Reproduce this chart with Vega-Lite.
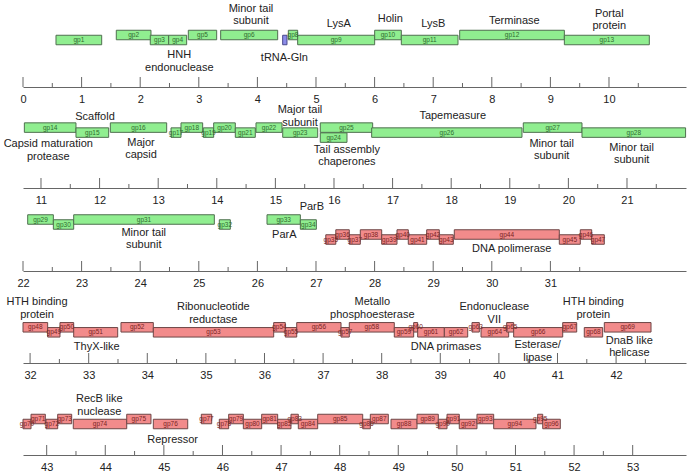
{
  "$schema": "https://vega.github.io/schema/vega-lite/v6.json",
  "padding": {"left": 3, "top": 2, "right": 0, "bottom": 0},
  "bounds": "flush",
  "spacing": 0,
  "config": {
    "view": {"stroke": null},
    "font": "Liberation Sans",
    "axis": {"grid": false, "title": null, "ticks": false, "domainColor": "#666666", "labelColor": "#222222", "labelFontSize": 11, "labelFlush": false, "labelOverlap": false, "labelBound": false, "labelPadding": 6.5, "format": "d"}
  },
  "resolve": {"scale": {"x": "independent", "y": "independent"}, "axis": {"x": "independent", "y": "independent"}},
  "datasets": {
    "genes": [
      {"row":1,"name":"gp1","start":0.563,"end":1.343,"level":3,"strand":"+"},
      {"row":1,"name":"gp2","start":1.592,"end":2.184,"level":4,"strand":"+"},
      {"row":1,"name":"gp3","start":2.172,"end":2.486,"level":3,"strand":"+"},
      {"row":1,"name":"gp4","start":2.486,"end":2.793,"level":3,"strand":"+"},
      {"row":1,"name":"gp5","start":2.821,"end":3.305,"level":4,"strand":"+"},
      {"row":1,"name":"gp6","start":3.373,"end":4.346,"level":4,"strand":"+"},
      {"row":1,"name":"tRNA","start":4.431,"end":4.505,"level":3,"strand":"t"},
      {"row":1,"name":"gp8","start":4.528,"end":4.687,"level":4,"strand":"+"},
      {"row":1,"name":"gp9","start":4.687,"end":6.001,"level":3,"strand":"+"},
      {"row":1,"name":"gp10","start":6.001,"end":6.456,"level":4,"strand":"+"},
      {"row":1,"name":"gp11","start":6.456,"end":7.423,"level":3,"strand":"+"},
      {"row":1,"name":"gp12","start":7.452,"end":9.238,"level":4,"strand":"+"},
      {"row":1,"name":"gp13","start":9.238,"end":10.688,"level":3,"strand":"+"},
      {"row":2,"name":"gp14","start":10.716,"end":11.597,"level":4,"strand":"+"},
      {"row":2,"name":"gp15","start":11.597,"end":12.155,"level":3,"strand":"+"},
      {"row":2,"name":"gp16","start":12.183,"end":13.145,"level":4,"strand":"+"},
      {"row":2,"name":"gp17","start":13.219,"end":13.389,"level":3,"strand":"+"},
      {"row":2,"name":"gp18","start":13.389,"end":13.759,"level":4,"strand":"+"},
      {"row":2,"name":"gp19","start":13.77,"end":13.947,"level":3,"strand":"+"},
      {"row":2,"name":"gp20","start":13.947,"end":14.316,"level":4,"strand":"+"},
      {"row":2,"name":"gp21","start":14.316,"end":14.657,"level":3,"strand":"+"},
      {"row":2,"name":"gp22","start":14.669,"end":15.113,"level":4,"strand":"+"},
      {"row":2,"name":"gp23","start":15.125,"end":15.722,"level":3,"strand":"+"},
      {"row":2,"name":"gp25","start":15.766,"end":16.66,"level":4,"strand":"+"},
      {"row":2,"name":"gp24","start":15.766,"end":16.222,"level":2,"strand":"+"},
      {"row":2,"name":"gp26","start":16.643,"end":19.208,"level":3,"strand":"+"},
      {"row":2,"name":"gp27","start":19.23,"end":20.232,"level":4,"strand":"+"},
      {"row":2,"name":"gp28","start":20.232,"end":22.0,"level":3,"strand":"+"},
      {"row":3,"name":"gp29","start":22.08,"end":22.518,"level":4,"strand":"+"},
      {"row":3,"name":"gp30","start":22.518,"end":22.865,"level":3,"strand":"+"},
      {"row":3,"name":"gp31","start":22.865,"end":25.265,"level":4,"strand":"+"},
      {"row":3,"name":"gp32","start":25.35,"end":25.538,"level":3,"strand":"+"},
      {"row":3,"name":"gp33","start":26.164,"end":26.733,"level":4,"strand":"+"},
      {"row":3,"name":"gp34","start":26.733,"end":27.006,"level":3,"strand":"+"},
      {"row":3,"name":"gp35","start":27.167,"end":27.338,"level":0,"strand":"-"},
      {"row":3,"name":"gp36","start":27.338,"end":27.568,"level":1,"strand":"-"},
      {"row":3,"name":"gp37","start":27.568,"end":27.756,"level":0,"strand":"-"},
      {"row":3,"name":"gp38","start":27.756,"end":28.121,"level":1,"strand":"-"},
      {"row":3,"name":"gp39","start":28.121,"end":28.382,"level":0,"strand":"-"},
      {"row":3,"name":"gp40","start":28.382,"end":28.575,"level":1,"strand":"-"},
      {"row":3,"name":"gp41","start":28.575,"end":28.889,"level":0,"strand":"-"},
      {"row":3,"name":"gp42","start":28.889,"end":29.104,"level":1,"strand":"-"},
      {"row":3,"name":"gp43","start":29.104,"end":29.343,"level":0,"strand":"-"},
      {"row":3,"name":"gp44","start":29.36,"end":31.152,"level":1,"strand":"-"},
      {"row":3,"name":"gp45","start":31.152,"end":31.51,"level":0,"strand":"-"},
      {"row":3,"name":"gp46","start":31.51,"end":31.705,"level":1,"strand":"-"},
      {"row":3,"name":"gp47","start":31.705,"end":31.92,"level":0,"strand":"-"},
      {"row":4,"name":"gp48","start":31.879,"end":32.3,"level":1,"strand":"-"},
      {"row":4,"name":"gp49","start":32.3,"end":32.51,"level":0,"strand":"-"},
      {"row":4,"name":"gp50","start":32.51,"end":32.744,"level":1,"strand":"-"},
      {"row":4,"name":"gp51","start":32.744,"end":33.495,"level":0,"strand":"-"},
      {"row":4,"name":"gp52","start":33.551,"end":34.103,"level":1,"strand":"-"},
      {"row":4,"name":"gp53","start":34.103,"end":36.157,"level":0,"strand":"-"},
      {"row":4,"name":"gp54","start":36.157,"end":36.355,"level":1,"strand":"-"},
      {"row":4,"name":"gp55","start":36.355,"end":36.55,"level":0,"strand":"-"},
      {"row":4,"name":"gp56","start":36.55,"end":37.306,"level":1,"strand":"-"},
      {"row":4,"name":"gp57","start":37.306,"end":37.447,"level":0,"strand":"-"},
      {"row":4,"name":"gp58","start":37.447,"end":38.215,"level":1,"strand":"-"},
      {"row":4,"name":"gp59","start":38.215,"end":38.546,"level":0,"strand":"-"},
      {"row":4,"name":"gp60","start":38.546,"end":38.614,"level":1,"strand":"-"},
      {"row":4,"name":"gp61","start":38.614,"end":39.069,"level":0,"strand":"-"},
      {"row":4,"name":"gp62","start":39.069,"end":39.468,"level":0,"strand":"-"},
      {"row":4,"name":"gp63","start":39.541,"end":39.666,"level":1,"strand":"-"},
      {"row":4,"name":"gp64","start":39.695,"end":40.167,"level":0,"strand":"-"},
      {"row":4,"name":"gp65","start":40.133,"end":40.252,"level":1,"strand":"-"},
      {"row":4,"name":"gp66","start":40.252,"end":41.089,"level":0,"strand":"-"},
      {"row":4,"name":"gp67","start":41.089,"end":41.328,"level":1,"strand":"-"},
      {"row":4,"name":"gp68","start":41.457,"end":41.771,"level":0,"strand":"-"},
      {"row":4,"name":"gp69","start":41.799,"end":42.596,"level":1,"strand":"-"},
      {"row":5,"name":"gp70","start":42.596,"end":42.733,"level":0,"strand":"-"},
      {"row":5,"name":"gp71","start":42.733,"end":42.977,"level":1,"strand":"-"},
      {"row":5,"name":"gp72","start":42.988,"end":43.188,"level":0,"strand":"-"},
      {"row":5,"name":"gp73","start":43.188,"end":43.427,"level":1,"strand":"-"},
      {"row":5,"name":"gp74","start":43.454,"end":44.366,"level":0,"strand":"-"},
      {"row":5,"name":"gp75","start":44.366,"end":44.78,"level":1,"strand":"-"},
      {"row":5,"name":"gp76","start":44.82,"end":45.407,"level":0,"strand":"-"},
      {"row":5,"name":"gp77","start":45.639,"end":45.816,"level":1,"strand":"-"},
      {"row":5,"name":"gp78","start":45.946,"end":46.106,"level":0,"strand":"-"},
      {"row":5,"name":"gp79","start":46.106,"end":46.356,"level":1,"strand":"-"},
      {"row":5,"name":"gp80","start":46.356,"end":46.669,"level":0,"strand":"-"},
      {"row":5,"name":"gp81","start":46.669,"end":46.942,"level":1,"strand":"-"},
      {"row":5,"name":"gp82","start":46.942,"end":47.169,"level":0,"strand":"-"},
      {"row":5,"name":"gp83","start":47.169,"end":47.294,"level":1,"strand":"-"},
      {"row":5,"name":"gp84","start":47.294,"end":47.625,"level":0,"strand":"-"},
      {"row":5,"name":"gp85","start":47.625,"end":48.393,"level":1,"strand":"-"},
      {"row":5,"name":"gp86","start":48.393,"end":48.523,"level":0,"strand":"-"},
      {"row":5,"name":"gp87","start":48.523,"end":48.83,"level":1,"strand":"-"},
      {"row":5,"name":"gp88","start":48.876,"end":49.32,"level":0,"strand":"-"},
      {"row":5,"name":"gp89","start":49.32,"end":49.683,"level":1,"strand":"-"},
      {"row":5,"name":"gp90","start":49.683,"end":49.832,"level":0,"strand":"-"},
      {"row":5,"name":"gp91","start":49.832,"end":50.041,"level":1,"strand":"-"},
      {"row":5,"name":"gp92","start":50.041,"end":50.343,"level":0,"strand":"-"},
      {"row":5,"name":"gp93","start":50.343,"end":50.628,"level":1,"strand":"-"},
      {"row":5,"name":"gp94","start":50.628,"end":51.35,"level":0,"strand":"-"},
      {"row":5,"name":"gp95","start":51.379,"end":51.465,"level":1,"strand":"-"},
      {"row":5,"name":"gp96","start":51.465,"end":51.765,"level":0,"strand":"-"}
    ],
    "labels": [
      {"row":1,"label":"Minor tail\nsubunit","at":3.89,"level":4,"side":"above"},
      {"row":1,"label":"HNH\nendonuclease","at":2.667,"level":3,"side":"below"},
      {"row":1,"label":"tRNA-Gln","at":4.46,"level":2.5,"side":"below"},
      {"row":1,"label":"LysA","at":5.39,"level":3.4,"side":"above"},
      {"row":1,"label":"Holin","at":6.268,"level":4.4,"side":"above"},
      {"row":1,"label":"LysB","at":7.0,"level":3.4,"side":"above"},
      {"row":1,"label":"Terminase","at":8.385,"level":4,"side":"above"},
      {"row":1,"label":"Portal\nprotein","at":10.005,"level":3,"side":"above"},
      {"row":2,"label":"Capsid maturation\nprotease","at":11.125,"level":3.7,"side":"below"},
      {"row":2,"label":"Scaffold","at":11.922,"level":3.3,"side":"above"},
      {"row":2,"label":"Major\ncapsid","at":12.707,"level":4,"side":"below"},
      {"row":2,"label":"Major tail\nsubunit","at":15.42,"level":2.2,"side":"above"},
      {"row":2,"label":"Tail assembly\nchaperones","at":16.22,"level":2.6,"side":"below"},
      {"row":2,"label":"Tapemeasure","at":18.026,"level":3.5,"side":"above"},
      {"row":2,"label":"Minor tail\nsubunit","at":19.715,"level":3.8,"side":"below"},
      {"row":2,"label":"Minor tail\nsubunit","at":21.08,"level":3,"side":"below"},
      {"row":3,"label":"Minor tail\nsubunit","at":24.06,"level":4.4,"side":"below"},
      {"row":3,"label":"ParA","at":26.46,"level":3.9,"side":"below"},
      {"row":3,"label":"ParB","at":26.93,"level":3.8,"side":"above"},
      {"row":3,"label":"DNA polimerase","at":30.34,"level":1.2,"side":"below"},
      {"row":4,"label":"HTH binding\nprotein","at":32.118,"level":0.7,"side":"above"},
      {"row":4,"label":"ThyX-like","at":33.137,"level":0.1,"side":"below"},
      {"row":4,"label":"Ribonucleotide\nreductase","at":35.127,"level":-0.3,"side":"above"},
      {"row":4,"label":"Metallo\nphosphoesterase","at":37.84,"level":0.7,"side":"above"},
      {"row":4,"label":"DNA primases","at":39.097,"level":0,"side":"below"},
      {"row":4,"label":"Endonuclease\nVII","at":39.922,"level":-0.3,"side":"above"},
      {"row":4,"label":"Esterase/\nlipase","at":40.662,"level":0.4,"side":"below"},
      {"row":4,"label":"HTH binding\nprotein","at":41.611,"level":0.7,"side":"above"},
      {"row":4,"label":"DnaB like\nhelicase","at":42.226,"level":1.3,"side":"below"},
      {"row":5,"label":"RecB like\nnuclease","at":43.898,"level":-0.3,"side":"above"},
      {"row":5,"label":"Repressor","at":45.15,"level":-0.1,"side":"below"}
    ],
    "ticks": [
      {"row":1,"pos":0,"major":true},{"row":1,"pos":0.5,"major":false},{"row":1,"pos":1,"major":true},{"row":1,"pos":1.5,"major":false},
      {"row":1,"pos":2,"major":true},{"row":1,"pos":2.5,"major":false},{"row":1,"pos":3,"major":true},{"row":1,"pos":3.5,"major":false},
      {"row":1,"pos":4,"major":true},{"row":1,"pos":4.5,"major":false},{"row":1,"pos":5,"major":true},{"row":1,"pos":5.5,"major":false},
      {"row":1,"pos":6,"major":true},{"row":1,"pos":6.5,"major":false},{"row":1,"pos":7,"major":true},{"row":1,"pos":7.5,"major":false},
      {"row":1,"pos":8,"major":true},{"row":1,"pos":8.5,"major":false},{"row":1,"pos":9,"major":true},{"row":1,"pos":9.5,"major":false},
      {"row":1,"pos":10,"major":true},{"row":1,"pos":10.5,"major":false},
      {"row":2,"pos":11,"major":true},{"row":2,"pos":11.5,"major":false},{"row":2,"pos":12,"major":true},{"row":2,"pos":12.5,"major":false},
      {"row":2,"pos":13,"major":true},{"row":2,"pos":13.5,"major":false},{"row":2,"pos":14,"major":true},{"row":2,"pos":14.5,"major":false},
      {"row":2,"pos":15,"major":true},{"row":2,"pos":15.5,"major":false},{"row":2,"pos":16,"major":true},{"row":2,"pos":16.5,"major":false},
      {"row":2,"pos":17,"major":true},{"row":2,"pos":17.5,"major":false},{"row":2,"pos":18,"major":true},{"row":2,"pos":18.5,"major":false},
      {"row":2,"pos":19,"major":true},{"row":2,"pos":19.5,"major":false},{"row":2,"pos":20,"major":true},{"row":2,"pos":20.5,"major":false},
      {"row":2,"pos":21,"major":true},{"row":2,"pos":21.5,"major":false},
      {"row":3,"pos":22,"major":true},{"row":3,"pos":22.5,"major":false},{"row":3,"pos":23,"major":true},{"row":3,"pos":23.5,"major":false},
      {"row":3,"pos":24,"major":true},{"row":3,"pos":24.5,"major":false},{"row":3,"pos":25,"major":true},{"row":3,"pos":25.5,"major":false},
      {"row":3,"pos":26,"major":true},{"row":3,"pos":26.5,"major":false},{"row":3,"pos":27,"major":true},{"row":3,"pos":27.5,"major":false},
      {"row":3,"pos":28,"major":true},{"row":3,"pos":28.5,"major":false},{"row":3,"pos":29,"major":true},{"row":3,"pos":29.5,"major":false},
      {"row":3,"pos":30,"major":true},{"row":3,"pos":30.5,"major":false},{"row":3,"pos":31,"major":true},{"row":3,"pos":31.5,"major":false},
      {"row":4,"pos":32,"major":true},{"row":4,"pos":32.5,"major":false},{"row":4,"pos":33,"major":true},{"row":4,"pos":33.5,"major":false},
      {"row":4,"pos":34,"major":true},{"row":4,"pos":34.5,"major":false},{"row":4,"pos":35,"major":true},{"row":4,"pos":35.5,"major":false},
      {"row":4,"pos":36,"major":true},{"row":4,"pos":36.5,"major":false},{"row":4,"pos":37,"major":true},{"row":4,"pos":37.5,"major":false},
      {"row":4,"pos":38,"major":true},{"row":4,"pos":38.5,"major":false},{"row":4,"pos":39,"major":true},{"row":4,"pos":39.5,"major":false},
      {"row":4,"pos":40,"major":true},{"row":4,"pos":40.5,"major":false},{"row":4,"pos":41,"major":true},{"row":4,"pos":41.5,"major":false},
      {"row":4,"pos":42,"major":true},{"row":4,"pos":42.5,"major":false},
      {"row":5,"pos":43,"major":true},{"row":5,"pos":43.5,"major":false},{"row":5,"pos":44,"major":true},{"row":5,"pos":44.5,"major":false},
      {"row":5,"pos":45,"major":true},{"row":5,"pos":45.5,"major":false},{"row":5,"pos":46,"major":true},{"row":5,"pos":46.5,"major":false},
      {"row":5,"pos":47,"major":true},{"row":5,"pos":47.5,"major":false},{"row":5,"pos":48,"major":true},{"row":5,"pos":48.5,"major":false},
      {"row":5,"pos":49,"major":true},{"row":5,"pos":49.5,"major":false},{"row":5,"pos":50,"major":true},{"row":5,"pos":50.5,"major":false},
      {"row":5,"pos":51,"major":true},{"row":5,"pos":51.5,"major":false},{"row":5,"pos":52,"major":true},{"row":5,"pos":52.5,"major":false},
      {"row":5,"pos":53,"major":true}
    ]
  },
  "vconcat": [
    {
      "width": 663, "height": 84,
      "layer": [
        {"data": {"name": "ticks"}, "transform": [{"filter": "datum.row === 1 && datum.major"}],
         "mark": {"type": "rule", "color": "#666666", "strokeWidth": 1},
         "encoding": {
           "x": {"field": "pos", "type": "quantitative", "scale": {"domain": [0, 11.314], "nice": false, "zero": false},
                 "axis": {"values": [0,1,2,3,4,5,6,7,8,9,10]}},
           "y": {"datum": -6.4, "type": "quantitative", "scale": {"domain": [-6.4, 10.4], "nice": false, "zero": false}, "axis": null},
           "y2": {"datum": -4.4}
         }},
        {"data": {"name": "ticks"}, "transform": [{"filter": "datum.row === 1 && !datum.major"}],
         "mark": {"type": "rule", "color": "#666666", "strokeWidth": 1},
         "encoding": {
           "x": {"field": "pos", "type": "quantitative", "scale": {"domain": [0, 11.314], "nice": false, "zero": false}},
           "y": {"datum": -6.4, "type": "quantitative", "scale": {"domain": [-6.4, 10.4], "nice": false, "zero": false}},
           "y2": {"datum": -5.6}
         }},
        {"data": {"name": "genes"}, "transform": [{"filter": "datum.row === 1"}],
         "mark": {"type": "rect", "height": 9.5, "baseline": "middle", "strokeWidth": 1},
         "encoding": {
           "x": {"field": "start", "type": "quantitative", "scale": {"domain": [0, 11.314], "nice": false, "zero": false}},
           "x2": {"field": "end"},
           "y": {"field": "level", "type": "quantitative", "scale": {"domain": [-6.4, 10.4], "nice": false, "zero": false}},
           "fill": {"field": "strand", "type": "nominal", "scale": {"domain": ["+","-","t"], "range": ["#90ee90","#f28b8b","#8c8ce8"]}, "legend": null},
           "stroke": {"field": "strand", "type": "nominal", "scale": {"domain": ["+","-","t"], "range": ["#4f6f4f","#6e4646","#4a4a8c"]}, "legend": null}
         }},
        {"data": {"name": "genes"}, "transform": [{"filter": "datum.row === 1 && datum.strand !== 't'"}, {"fold": ["start","end"], "as": ["edge","pos"]}],
         "mark": {"type": "text", "fontSize": 6.5, "baseline": "middle"},
         "encoding": {
           "x": {"field": "pos", "aggregate": "mean", "type": "quantitative", "scale": {"domain": [0, 11.314], "nice": false, "zero": false}},
           "y": {"field": "level", "type": "quantitative", "scale": {"domain": [-6.4, 10.4], "nice": false, "zero": false}},
           "text": {"field": "name"},
           "color": {"field": "strand", "type": "nominal", "scale": {"domain": ["+","-"], "range": ["#2f6b2f","#7a2424"]}, "legend": null}
         }},
        {"data": {"name": "labels"}, "transform": [{"filter": "datum.row === 1 && datum.side === 'above' && indexof(datum.label, '\\n') < 0"}],
         "mark": {"type": "text", "baseline": "bottom", "dy": -9, "fontSize": 11, "lineHeight": 12.5, "lineBreak": "\n", "color": "#222222"},
         "encoding": {
           "x": {"field": "at", "type": "quantitative", "scale": {"domain": [0, 11.314], "nice": false, "zero": false}},
           "y": {"field": "level", "type": "quantitative", "scale": {"domain": [-6.4, 10.4], "nice": false, "zero": false}},
           "text": {"field": "label"}
         }},
        {"data": {"name": "labels"}, "transform": [{"filter": "datum.row === 1 && datum.side === 'above' && indexof(datum.label, '\\n') >= 0"}],
         "mark": {"type": "text", "baseline": "bottom", "dy": -21.5, "fontSize": 11, "lineHeight": 12.5, "lineBreak": "\n", "color": "#222222"},
         "encoding": {
           "x": {"field": "at", "type": "quantitative", "scale": {"domain": [0, 11.314], "nice": false, "zero": false}},
           "y": {"field": "level", "type": "quantitative", "scale": {"domain": [-6.4, 10.4], "nice": false, "zero": false}},
           "text": {"field": "label"}
         }},
        {"data": {"name": "labels"}, "transform": [{"filter": "datum.row === 1 && datum.side === 'below'"}],
         "mark": {"type": "text", "baseline": "top", "dy": 9, "fontSize": 11, "lineHeight": 12.5, "lineBreak": "\n", "color": "#222222"},
         "encoding": {
           "x": {"field": "at", "type": "quantitative", "scale": {"domain": [0, 11.314], "nice": false, "zero": false}},
           "y": {"field": "level", "type": "quantitative", "scale": {"domain": [-6.4, 10.4], "nice": false, "zero": false}},
           "text": {"field": "label"}
         }}
      ]
    },
    {
      "width": 663, "height": 101,
      "layer": [
        {"data": {"name": "ticks"}, "transform": [{"filter": "datum.row === 2 && datum.major"}],
         "mark": {"type": "rule", "color": "#666666", "strokeWidth": 1},
         "encoding": {
           "x": {"field": "pos", "type": "quantitative", "scale": {"domain": [10.693, 22.007], "nice": false, "zero": false},
                 "axis": {"values": [11,12,13,14,15,16,17,18,19,20,21]}},
           "y": {"datum": -8.08, "type": "quantitative", "scale": {"domain": [-8.08, 12.12], "nice": false, "zero": false}, "axis": null},
           "y2": {"datum": -6.08}
         }},
        {"data": {"name": "ticks"}, "transform": [{"filter": "datum.row === 2 && !datum.major"}],
         "mark": {"type": "rule", "color": "#666666", "strokeWidth": 1},
         "encoding": {
           "x": {"field": "pos", "type": "quantitative", "scale": {"domain": [10.693, 22.007], "nice": false, "zero": false}},
           "y": {"datum": -8.08, "type": "quantitative", "scale": {"domain": [-8.08, 12.12], "nice": false, "zero": false}},
           "y2": {"datum": -7.28}
         }},
        {"data": {"name": "genes"}, "transform": [{"filter": "datum.row === 2"}],
         "mark": {"type": "rect", "height": 9.5, "baseline": "middle", "strokeWidth": 1},
         "encoding": {
           "x": {"field": "start", "type": "quantitative", "scale": {"domain": [10.693, 22.007], "nice": false, "zero": false}},
           "x2": {"field": "end"},
           "y": {"field": "level", "type": "quantitative", "scale": {"domain": [-8.08, 12.12], "nice": false, "zero": false}},
           "fill": {"field": "strand", "type": "nominal", "scale": {"domain": ["+","-","t"], "range": ["#90ee90","#f28b8b","#8c8ce8"]}, "legend": null},
           "stroke": {"field": "strand", "type": "nominal", "scale": {"domain": ["+","-","t"], "range": ["#4f6f4f","#6e4646","#4a4a8c"]}, "legend": null}
         }},
        {"data": {"name": "genes"}, "transform": [{"filter": "datum.row === 2 && datum.strand !== 't'"}, {"fold": ["start","end"], "as": ["edge","pos"]}],
         "mark": {"type": "text", "fontSize": 6.5, "baseline": "middle"},
         "encoding": {
           "x": {"field": "pos", "aggregate": "mean", "type": "quantitative", "scale": {"domain": [10.693, 22.007], "nice": false, "zero": false}},
           "y": {"field": "level", "type": "quantitative", "scale": {"domain": [-8.08, 12.12], "nice": false, "zero": false}},
           "text": {"field": "name"},
           "color": {"field": "strand", "type": "nominal", "scale": {"domain": ["+","-"], "range": ["#2f6b2f","#7a2424"]}, "legend": null}
         }},
        {"data": {"name": "labels"}, "transform": [{"filter": "datum.row === 2 && datum.side === 'above' && indexof(datum.label, '\\n') < 0"}],
         "mark": {"type": "text", "baseline": "bottom", "dy": -9, "fontSize": 11, "lineHeight": 12.5, "lineBreak": "\n", "color": "#222222"},
         "encoding": {
           "x": {"field": "at", "type": "quantitative", "scale": {"domain": [10.693, 22.007], "nice": false, "zero": false}},
           "y": {"field": "level", "type": "quantitative", "scale": {"domain": [-8.08, 12.12], "nice": false, "zero": false}},
           "text": {"field": "label"}
         }},
        {"data": {"name": "labels"}, "transform": [{"filter": "datum.row === 2 && datum.side === 'above' && indexof(datum.label, '\\n') >= 0"}],
         "mark": {"type": "text", "baseline": "bottom", "dy": -21.5, "fontSize": 11, "lineHeight": 12.5, "lineBreak": "\n", "color": "#222222"},
         "encoding": {
           "x": {"field": "at", "type": "quantitative", "scale": {"domain": [10.693, 22.007], "nice": false, "zero": false}},
           "y": {"field": "level", "type": "quantitative", "scale": {"domain": [-8.08, 12.12], "nice": false, "zero": false}},
           "text": {"field": "label"}
         }},
        {"data": {"name": "labels"}, "transform": [{"filter": "datum.row === 2 && datum.side === 'below'"}],
         "mark": {"type": "text", "baseline": "top", "dy": 9, "fontSize": 11, "lineHeight": 12.5, "lineBreak": "\n", "color": "#222222"},
         "encoding": {
           "x": {"field": "at", "type": "quantitative", "scale": {"domain": [10.693, 22.007], "nice": false, "zero": false}},
           "y": {"field": "level", "type": "quantitative", "scale": {"domain": [-8.08, 12.12], "nice": false, "zero": false}},
           "text": {"field": "label"}
         }}
      ]
    },
    {
      "width": 663, "height": 83,
      "layer": [
        {"data": {"name": "ticks"}, "transform": [{"filter": "datum.row === 3 && datum.major"}],
         "mark": {"type": "rule", "color": "#666666", "strokeWidth": 1},
         "encoding": {
           "x": {"field": "pos", "type": "quantitative", "scale": {"domain": [22.0, 33.314], "nice": false, "zero": false},
                 "axis": {"values": [22,23,24,25,26,27,28,29,30,31]}},
           "y": {"datum": -6.3, "type": "quantitative", "scale": {"domain": [-6.3, 10.3], "nice": false, "zero": false}, "axis": null},
           "y2": {"datum": -4.3}
         }},
        {"data": {"name": "ticks"}, "transform": [{"filter": "datum.row === 3 && !datum.major"}],
         "mark": {"type": "rule", "color": "#666666", "strokeWidth": 1},
         "encoding": {
           "x": {"field": "pos", "type": "quantitative", "scale": {"domain": [22.0, 33.314], "nice": false, "zero": false}},
           "y": {"datum": -6.3, "type": "quantitative", "scale": {"domain": [-6.3, 10.3], "nice": false, "zero": false}},
           "y2": {"datum": -5.5}
         }},
        {"data": {"name": "genes"}, "transform": [{"filter": "datum.row === 3"}],
         "mark": {"type": "rect", "height": 9.5, "baseline": "middle", "strokeWidth": 1},
         "encoding": {
           "x": {"field": "start", "type": "quantitative", "scale": {"domain": [22.0, 33.314], "nice": false, "zero": false}},
           "x2": {"field": "end"},
           "y": {"field": "level", "type": "quantitative", "scale": {"domain": [-6.3, 10.3], "nice": false, "zero": false}},
           "fill": {"field": "strand", "type": "nominal", "scale": {"domain": ["+","-","t"], "range": ["#90ee90","#f28b8b","#8c8ce8"]}, "legend": null},
           "stroke": {"field": "strand", "type": "nominal", "scale": {"domain": ["+","-","t"], "range": ["#4f6f4f","#6e4646","#4a4a8c"]}, "legend": null}
         }},
        {"data": {"name": "genes"}, "transform": [{"filter": "datum.row === 3 && datum.strand !== 't'"}, {"fold": ["start","end"], "as": ["edge","pos"]}],
         "mark": {"type": "text", "fontSize": 6.5, "baseline": "middle"},
         "encoding": {
           "x": {"field": "pos", "aggregate": "mean", "type": "quantitative", "scale": {"domain": [22.0, 33.314], "nice": false, "zero": false}},
           "y": {"field": "level", "type": "quantitative", "scale": {"domain": [-6.3, 10.3], "nice": false, "zero": false}},
           "text": {"field": "name"},
           "color": {"field": "strand", "type": "nominal", "scale": {"domain": ["+","-"], "range": ["#2f6b2f","#7a2424"]}, "legend": null}
         }},
        {"data": {"name": "labels"}, "transform": [{"filter": "datum.row === 3 && datum.side === 'above' && indexof(datum.label, '\\n') < 0"}],
         "mark": {"type": "text", "baseline": "bottom", "dy": -9, "fontSize": 11, "lineHeight": 12.5, "lineBreak": "\n", "color": "#222222"},
         "encoding": {
           "x": {"field": "at", "type": "quantitative", "scale": {"domain": [22.0, 33.314], "nice": false, "zero": false}},
           "y": {"field": "level", "type": "quantitative", "scale": {"domain": [-6.3, 10.3], "nice": false, "zero": false}},
           "text": {"field": "label"}
         }},
        {"data": {"name": "labels"}, "transform": [{"filter": "datum.row === 3 && datum.side === 'above' && indexof(datum.label, '\\n') >= 0"}],
         "mark": {"type": "text", "baseline": "bottom", "dy": -21.5, "fontSize": 11, "lineHeight": 12.5, "lineBreak": "\n", "color": "#222222"},
         "encoding": {
           "x": {"field": "at", "type": "quantitative", "scale": {"domain": [22.0, 33.314], "nice": false, "zero": false}},
           "y": {"field": "level", "type": "quantitative", "scale": {"domain": [-6.3, 10.3], "nice": false, "zero": false}},
           "text": {"field": "label"}
         }},
        {"data": {"name": "labels"}, "transform": [{"filter": "datum.row === 3 && datum.side === 'below'"}],
         "mark": {"type": "text", "baseline": "top", "dy": 9, "fontSize": 11, "lineHeight": 12.5, "lineBreak": "\n", "color": "#222222"},
         "encoding": {
           "x": {"field": "at", "type": "quantitative", "scale": {"domain": [22.0, 33.314], "nice": false, "zero": false}},
           "y": {"field": "level", "type": "quantitative", "scale": {"domain": [-6.3, 10.3], "nice": false, "zero": false}},
           "text": {"field": "label"}
         }}
      ]
    },
    {
      "width": 663, "height": 92,
      "layer": [
        {"data": {"name": "ticks"}, "transform": [{"filter": "datum.row === 4 && datum.major"}],
         "mark": {"type": "rule", "color": "#666666", "strokeWidth": 1},
         "encoding": {
           "x": {"field": "pos", "type": "quantitative", "scale": {"domain": [31.879, 43.193], "nice": false, "zero": false},
                 "axis": {"values": [32,33,34,35,36,37,38,39,40,41,42]}},
           "y": {"datum": -6.14, "type": "quantitative", "scale": {"domain": [-6.14, 12.26], "nice": false, "zero": false}, "axis": null},
           "y2": {"datum": -4.14}
         }},
        {"data": {"name": "ticks"}, "transform": [{"filter": "datum.row === 4 && !datum.major"}],
         "mark": {"type": "rule", "color": "#666666", "strokeWidth": 1},
         "encoding": {
           "x": {"field": "pos", "type": "quantitative", "scale": {"domain": [31.879, 43.193], "nice": false, "zero": false}},
           "y": {"datum": -6.14, "type": "quantitative", "scale": {"domain": [-6.14, 12.26], "nice": false, "zero": false}},
           "y2": {"datum": -5.34}
         }},
        {"data": {"name": "genes"}, "transform": [{"filter": "datum.row === 4"}],
         "mark": {"type": "rect", "height": 9.5, "baseline": "middle", "strokeWidth": 1},
         "encoding": {
           "x": {"field": "start", "type": "quantitative", "scale": {"domain": [31.879, 43.193], "nice": false, "zero": false}},
           "x2": {"field": "end"},
           "y": {"field": "level", "type": "quantitative", "scale": {"domain": [-6.14, 12.26], "nice": false, "zero": false}},
           "fill": {"field": "strand", "type": "nominal", "scale": {"domain": ["+","-","t"], "range": ["#90ee90","#f28b8b","#8c8ce8"]}, "legend": null},
           "stroke": {"field": "strand", "type": "nominal", "scale": {"domain": ["+","-","t"], "range": ["#4f6f4f","#6e4646","#4a4a8c"]}, "legend": null}
         }},
        {"data": {"name": "genes"}, "transform": [{"filter": "datum.row === 4 && datum.strand !== 't'"}, {"fold": ["start","end"], "as": ["edge","pos"]}],
         "mark": {"type": "text", "fontSize": 6.5, "baseline": "middle"},
         "encoding": {
           "x": {"field": "pos", "aggregate": "mean", "type": "quantitative", "scale": {"domain": [31.879, 43.193], "nice": false, "zero": false}},
           "y": {"field": "level", "type": "quantitative", "scale": {"domain": [-6.14, 12.26], "nice": false, "zero": false}},
           "text": {"field": "name"},
           "color": {"field": "strand", "type": "nominal", "scale": {"domain": ["+","-"], "range": ["#2f6b2f","#7a2424"]}, "legend": null}
         }},
        {"data": {"name": "labels"}, "transform": [{"filter": "datum.row === 4 && datum.side === 'above' && indexof(datum.label, '\\n') < 0"}],
         "mark": {"type": "text", "baseline": "bottom", "dy": -9, "fontSize": 11, "lineHeight": 12.5, "lineBreak": "\n", "color": "#222222"},
         "encoding": {
           "x": {"field": "at", "type": "quantitative", "scale": {"domain": [31.879, 43.193], "nice": false, "zero": false}},
           "y": {"field": "level", "type": "quantitative", "scale": {"domain": [-6.14, 12.26], "nice": false, "zero": false}},
           "text": {"field": "label"}
         }},
        {"data": {"name": "labels"}, "transform": [{"filter": "datum.row === 4 && datum.side === 'above' && indexof(datum.label, '\\n') >= 0"}],
         "mark": {"type": "text", "baseline": "bottom", "dy": -21.5, "fontSize": 11, "lineHeight": 12.5, "lineBreak": "\n", "color": "#222222"},
         "encoding": {
           "x": {"field": "at", "type": "quantitative", "scale": {"domain": [31.879, 43.193], "nice": false, "zero": false}},
           "y": {"field": "level", "type": "quantitative", "scale": {"domain": [-6.14, 12.26], "nice": false, "zero": false}},
           "text": {"field": "label"}
         }},
        {"data": {"name": "labels"}, "transform": [{"filter": "datum.row === 4 && datum.side === 'below'"}],
         "mark": {"type": "text", "baseline": "top", "dy": 9, "fontSize": 11, "lineHeight": 12.5, "lineBreak": "\n", "color": "#222222"},
         "encoding": {
           "x": {"field": "at", "type": "quantitative", "scale": {"domain": [31.879, 43.193], "nice": false, "zero": false}},
           "y": {"field": "level", "type": "quantitative", "scale": {"domain": [-6.14, 12.26], "nice": false, "zero": false}},
           "text": {"field": "label"}
         }}
      ]
    },
    {
      "width": 663, "height": 92,
      "layer": [
        {"data": {"name": "ticks"}, "transform": [{"filter": "datum.row === 5 && datum.major"}],
         "mark": {"type": "rule", "color": "#666666", "strokeWidth": 1},
         "encoding": {
           "x": {"field": "pos", "type": "quantitative", "scale": {"domain": [42.596, 53.91], "nice": false, "zero": false},
                 "axis": {"values": [43,44,45,46,47,48,49,50,51,52,53]}},
           "y": {"datum": -6.2, "type": "quantitative", "scale": {"domain": [-6.2, 12.2], "nice": false, "zero": false}, "axis": null},
           "y2": {"datum": -4.2}
         }},
        {"data": {"name": "ticks"}, "transform": [{"filter": "datum.row === 5 && !datum.major"}],
         "mark": {"type": "rule", "color": "#666666", "strokeWidth": 1},
         "encoding": {
           "x": {"field": "pos", "type": "quantitative", "scale": {"domain": [42.596, 53.91], "nice": false, "zero": false}},
           "y": {"datum": -6.2, "type": "quantitative", "scale": {"domain": [-6.2, 12.2], "nice": false, "zero": false}},
           "y2": {"datum": -5.4}
         }},
        {"data": {"name": "genes"}, "transform": [{"filter": "datum.row === 5"}],
         "mark": {"type": "rect", "height": 9.5, "baseline": "middle", "strokeWidth": 1},
         "encoding": {
           "x": {"field": "start", "type": "quantitative", "scale": {"domain": [42.596, 53.91], "nice": false, "zero": false}},
           "x2": {"field": "end"},
           "y": {"field": "level", "type": "quantitative", "scale": {"domain": [-6.2, 12.2], "nice": false, "zero": false}},
           "fill": {"field": "strand", "type": "nominal", "scale": {"domain": ["+","-","t"], "range": ["#90ee90","#f28b8b","#8c8ce8"]}, "legend": null},
           "stroke": {"field": "strand", "type": "nominal", "scale": {"domain": ["+","-","t"], "range": ["#4f6f4f","#6e4646","#4a4a8c"]}, "legend": null}
         }},
        {"data": {"name": "genes"}, "transform": [{"filter": "datum.row === 5 && datum.strand !== 't'"}, {"fold": ["start","end"], "as": ["edge","pos"]}],
         "mark": {"type": "text", "fontSize": 6.5, "baseline": "middle"},
         "encoding": {
           "x": {"field": "pos", "aggregate": "mean", "type": "quantitative", "scale": {"domain": [42.596, 53.91], "nice": false, "zero": false}},
           "y": {"field": "level", "type": "quantitative", "scale": {"domain": [-6.2, 12.2], "nice": false, "zero": false}},
           "text": {"field": "name"},
           "color": {"field": "strand", "type": "nominal", "scale": {"domain": ["+","-"], "range": ["#2f6b2f","#7a2424"]}, "legend": null}
         }},
        {"data": {"name": "labels"}, "transform": [{"filter": "datum.row === 5 && datum.side === 'above' && indexof(datum.label, '\\n') < 0"}],
         "mark": {"type": "text", "baseline": "bottom", "dy": -9, "fontSize": 11, "lineHeight": 12.5, "lineBreak": "\n", "color": "#222222"},
         "encoding": {
           "x": {"field": "at", "type": "quantitative", "scale": {"domain": [42.596, 53.91], "nice": false, "zero": false}},
           "y": {"field": "level", "type": "quantitative", "scale": {"domain": [-6.2, 12.2], "nice": false, "zero": false}},
           "text": {"field": "label"}
         }},
        {"data": {"name": "labels"}, "transform": [{"filter": "datum.row === 5 && datum.side === 'above' && indexof(datum.label, '\\n') >= 0"}],
         "mark": {"type": "text", "baseline": "bottom", "dy": -21.5, "fontSize": 11, "lineHeight": 12.5, "lineBreak": "\n", "color": "#222222"},
         "encoding": {
           "x": {"field": "at", "type": "quantitative", "scale": {"domain": [42.596, 53.91], "nice": false, "zero": false}},
           "y": {"field": "level", "type": "quantitative", "scale": {"domain": [-6.2, 12.2], "nice": false, "zero": false}},
           "text": {"field": "label"}
         }},
        {"data": {"name": "labels"}, "transform": [{"filter": "datum.row === 5 && datum.side === 'below'"}],
         "mark": {"type": "text", "baseline": "top", "dy": 9, "fontSize": 11, "lineHeight": 12.5, "lineBreak": "\n", "color": "#222222"},
         "encoding": {
           "x": {"field": "at", "type": "quantitative", "scale": {"domain": [42.596, 53.91], "nice": false, "zero": false}},
           "y": {"field": "level", "type": "quantitative", "scale": {"domain": [-6.2, 12.2], "nice": false, "zero": false}},
           "text": {"field": "label"}
         }}
      ]
    }
  ]
}
